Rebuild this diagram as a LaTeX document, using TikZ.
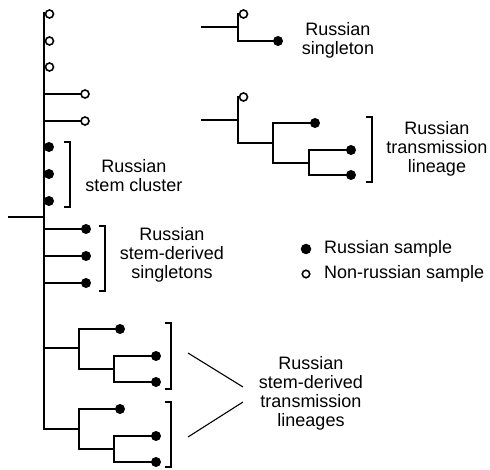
\documentclass[tikz,border=0pt]{standalone}
\usepackage{fontspec}
\setmainfont{Liberation Sans}
\begin{document}
\begin{tikzpicture}[x=1pt,y=-1pt,
  tree/.style={line width=2.1pt, line cap=rect},
  osamp/.style={circle, draw, line width=1.6pt, fill=white, inner sep=0pt, minimum size=8pt},
  fsamp/.style={circle, fill=black, inner sep=0pt, minimum size=10pt},
  brk/.style={line width=1.1pt},
  lbl/.style={align=center, inner sep=0pt, font=\fontsize{18}{19}\selectfont},
  leg/.style={anchor=west, inner sep=0pt, font=\fontsize{18}{19}\selectfont}]
\useasboundingbox (0,0) rectangle (490,470);

% ---- main tree ----
\coordinate (mtop) at (44,13);
\coordinate (mbot) at (44,429);
\coordinate (rj) at (44,217);
\coordinate (root) at (9,217);
\draw[tree] (mtop) -- (mbot);
\draw[tree] (root) -- (rj);

\node[osamp] (o1) at (49.5,14) {};
\node[osamp] (o2) at (49.5,41) {};
\node[osamp] (o3) at (49.5,67) {};
\coordinate (b4) at (44,94);
\coordinate (b5) at (44,121);
\draw[tree] (b4) -- (81,94);
\draw[tree] (b5) -- (81,121);
\node[osamp] (o4) at (85,94) {};
\node[osamp] (o5) at (85,121) {};

\node[fsamp] (f1) at (49,147) {};
\node[fsamp] (f2) at (49,174) {};
\node[fsamp] (f3) at (49,201) {};

\coordinate (bs1) at (44,229);
\coordinate (bs2) at (44,256);
\coordinate (bs3) at (44,283);
\node[fsamp] (s1) at (86,229) {};
\node[fsamp] (s2) at (86,256) {};
\node[fsamp] (s3) at (86,283) {};
\draw[tree] (bs1) -- (s1);
\draw[tree] (bs2) -- (s2);
\draw[tree] (bs3) -- (s3);

% lineage 1
\coordinate (j1) at (44,348);
\coordinate (j1a) at (79,329);
\coordinate (j1b) at (79,369);
\coordinate (j1c) at (114,356);
\coordinate (j1d) at (114,382);
\node[fsamp] (l1a) at (120,329) {};
\node[fsamp] (l1b) at (156,356) {};
\node[fsamp] (l1c) at (156,382) {};
\draw[tree] (j1) -- (79,348);
\draw[tree] (j1a) -- (j1b);
\draw[tree] (j1a) -- (l1a);
\draw[tree] (j1b) -- (114,369);
\draw[tree] (j1c) -- (j1d);
\draw[tree] (j1c) -- (l1b);
\draw[tree] (j1d) -- (l1c);

% lineage 2
\coordinate (j2) at (44,429);
\coordinate (j2a) at (79,409);
\coordinate (j2b) at (79,449);
\coordinate (j2c) at (114,436);
\coordinate (j2d) at (114,462);
\node[fsamp] (l2a) at (120,409) {};
\node[fsamp] (l2b) at (156,436) {};
\node[fsamp] (l2c) at (156,462) {};
\draw[tree] (j2) -- (79,429);
\draw[tree] (j2a) -- (j2b);
\draw[tree] (j2a) -- (l2a);
\draw[tree] (j2b) -- (114,449);
\draw[tree] (j2c) -- (j2d);
\draw[tree] (j2c) -- (l2b);
\draw[tree] (j2d) -- (l2c);

% ---- brackets ----
\draw[brk] (64,142) -- (70,142) -- (70,207) -- (64,207);
\draw[brk] (99,226) -- (105,226) -- (105,291) -- (99,291);
\draw[brk] (165,323) -- (171,323) -- (171,389) -- (165,389);
\draw[brk] (165,402) -- (171,402) -- (171,467) -- (165,467);
\draw[brk] (366,117) -- (372,117) -- (372,182) -- (366,182);

% ---- labels ----
\node[lbl] (tcl) at (134,176) {Russian\\stem cluster};
\node[lbl] (tsg) at (172,255) {Russian\\stem-derived\\singletons};
\node[lbl] (ttl) at (311,393) {Russian\\stem-derived\\transmission\\lineages};
\node[lbl] (trs) at (338,40) {Russian\\singleton};
\node[lbl] (trt) at (437,149) {Russian\\transmission\\lineage};

\coordinate (p1) at (188,353);
\coordinate (p2) at (188,437);
\coordinate (q1) at (243,387);
\coordinate (q2) at (243,402);
\draw[brk] (p1) -- (q1);
\draw[brk] (p2) -- (q2);

% ---- upper right: singleton ----
\coordinate (ua) at (202,27);
\coordinate (ub) at (238,27);
\coordinate (ut) at (238,14);
\coordinate (ud) at (238,41);
\draw[tree] (ua) -- (ub);
\draw[tree] (ut) -- (ud);
\node[fsamp] (uf) at (278,41) {};
\draw[tree] (ud) -- (uf);
\node[osamp] (uo) at (243.5,14) {};

% ---- upper right: transmission lineage ----
\coordinate (va) at (202,120);
\coordinate (vb) at (238,120);
\coordinate (vt) at (238,97);
\coordinate (vd) at (238,143);
\coordinate (vc1) at (273,123);
\coordinate (vc2) at (273,163);
\coordinate (vd1) at (309,150);
\coordinate (vd2) at (309,175);
\draw[tree] (va) -- (vb);
\draw[tree] (vt) -- (vd);
\draw[tree] (vd) -- (273,143);
\draw[tree] (vc1) -- (vc2);
\node[fsamp] (vf1) at (315,123) {};
\node[fsamp] (vf2) at (351,150) {};
\node[fsamp] (vf3) at (351,175) {};
\draw[tree] (vc1) -- (vf1);
\draw[tree] (vc2) -- (309,163);
\draw[tree] (vd1) -- (vd2);
\draw[tree] (vd1) -- (vf2);
\draw[tree] (vd2) -- (vf3);
\node[osamp] (vo) at (243.5,97) {};

% ---- legend ----
\node[fsamp, minimum size=10.5pt] (lgf) at (306,249) {};
\node[osamp, minimum size=7.5pt] (lgo) at (306,274) {};
\node[leg] (lgft) at (324,249) {Russian sample};
\node[leg] (lgot) at (324,274) {Non-russian sample};
\end{tikzpicture}
\end{document}
